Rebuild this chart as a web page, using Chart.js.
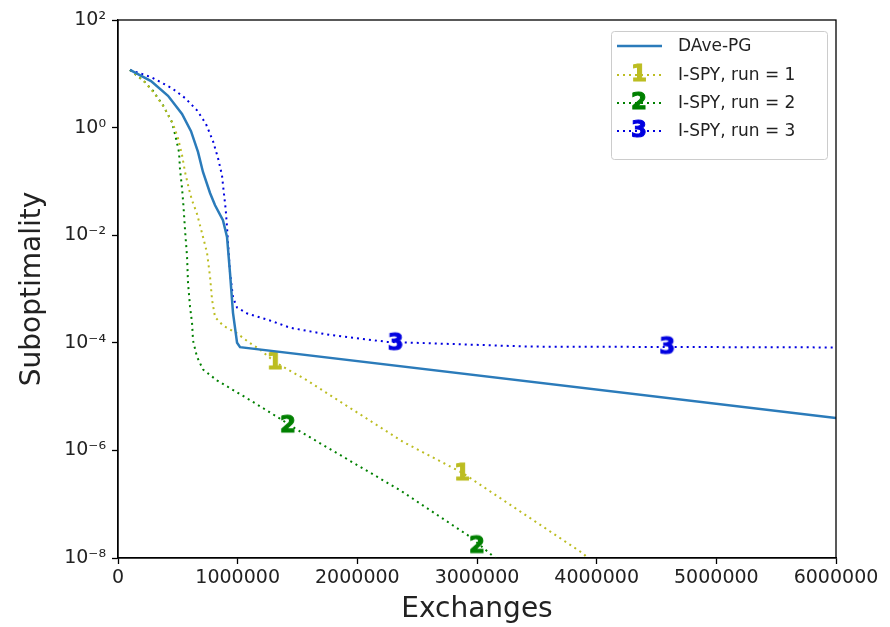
<!DOCTYPE html>
<html lang="en">
<head>
    <meta charset="UTF-8">
    <title>Suboptimality vs Exchanges</title>
    <script src="https://cdn.jsdelivr.net/npm/chart.js"></script>
    <style>
        body { margin: 0; background: #fff; }
        #wrap { width: 890px; height: 627px; }
    </style>
</head>
<body>
    <div id="wrap"><canvas id="chart" width="890" height="627"></canvas></div>
    <script>
        // values (x = exchanges, y = suboptimality)
        const daveX = [100000, 276000, 418000, 535000, 610000, 669000, 710000, 769000, 811000, 877000, 911000, 936000, 961000, 995000, 1020000, 6000000];
        const daveY = [11.8, 7.3, 3.9, 1.8, 0.86, 0.35, 0.15, 0.061, 0.036, 0.019, 0.0093, 0.002, 3.6e-4, 1e-4, 8.3e-5, 4e-6];

        const run1X = [100000, 217000, 301000, 384000, 460000, 501000, 535000, 560000, 593000, 618000, 660000, 702000, 744000, 769000, 786000, 811000, 877000, 994000, 1100000, 1190000, 1310000, 1580000, 2380000, 2880000, 3890000, 4050000];
        const run1Y = [11.8, 7.3, 4.4, 2.4, 1.17, 0.64, 0.31, 0.15, 0.072, 0.045, 0.025, 0.011, 0.0047, 0.0017, 6.3e-4, 3e-4, 2.1e-4, 1.5e-4, 1.0e-4, 7.4e-5, 4.4e-5, 2.0e-5, 1.45e-6, 3.8e-7, 1.2e-8, 5e-9];

        const run2X = [100000, 217000, 293000, 376000, 451000, 476000, 510000, 518000, 535000, 547000, 560000, 577000, 585000, 602000, 619000, 627000, 660000, 710000, 827000, 1100000, 1330000, 1500000, 2360000, 2940000, 3190000];
        const run2Y = [11.8, 7.3, 4.8, 2.6, 1.26, 0.76, 0.35, 0.17, 0.075, 0.035, 0.0126, 0.004, 0.0013, 4.7e-4, 2.3e-4, 1.1e-4, 5.5e-5, 3.2e-5, 2.0e-5, 8.7e-6, 4.2e-6, 2.4e-6, 1.8e-7, 2.5e-8, 8.5e-9];

        const run3X = [100000, 276000, 451000, 560000, 660000, 735000, 794000, 836000, 869000, 885000, 900000, 911000, 936000, 961000, 995000, 1080000, 1270000, 1440000, 1770000, 2250000, 3440000, 6000000];
        const run3Y = [11.8, 8.7, 5.4, 3.55, 2.1, 1.17, 0.56, 0.27, 0.13, 0.06, 0.03, 0.014, 0.002, 7e-4, 4.5e-4, 3.5e-4, 2.6e-4, 1.9e-4, 1.4e-4, 1.04e-4, 8.5e-5, 8.2e-5];

        // numbered markers sitting on the I-SPY curves
        const mark1X = [1310000, 2875000];
        const mark1Y = [4.4e-5, 3.8e-7];
        const mark2X = [1420000, 3000000];
        const mark2Y = [2.95e-6, 1.7e-8];
        const mark3X = [2320000, 4590000];
        const mark3Y = [1.0e-4, 8.5e-5];

        const xTicks = [0, 1000000, 2000000, 3000000, 4000000, 5000000, 6000000];
        const yPowers = [-8, -6, -4, -2, 0, 2];
        const yTickLabels = ['10⁻⁸', '10⁻⁶', '10⁻⁴', '10⁻²', '10⁰', '10²'];

        const seriesNames = ['DAve-PG', 'I-SPY, run = 1', 'I-SPY, run = 2', 'I-SPY, run = 3'];

        const cBlue = '#2b7bba';
        const cOlive = '#bcbd22';
        const cGreen = '#008000';
        const cRoyal = '#0000e0';

        function pts(xs, ys) {
            return xs.map((x, i) => ({ x: x, y: ys[i] }));
        }

        function digitMarker(d, color) {
            const c = document.createElement('canvas');
            c.width = 26; c.height = 30;
            const g = c.getContext('2d');
            g.font = 'bold 23px "DejaVu Sans"';
            g.textAlign = 'center';
            g.textBaseline = 'middle';
            g.fillStyle = color;
            g.strokeStyle = color;
            g.lineWidth = 1;
            g.fillText(d, 13, 16);
            g.strokeText(d, 13, 16);
            return c;
        }
        const m1 = digitMarker('1', cOlive);
        const m2 = digitMarker('2', cGreen);
        const m3 = digitMarker('3', cRoyal);

        const dotted = { borderDash: [2, 4], borderWidth: 2, pointRadius: 0, tension: 0, fill: false };

        const frameAndLegend = {
            id: 'frameAndLegend',
            afterDatasetsDraw(chart) {
                const ctx = chart.ctx;
                const a = chart.chartArea;
                ctx.save();
                ctx.strokeStyle = '#000';
                ctx.lineWidth = 1.3;
                ctx.strokeRect(a.left, a.top, a.right - a.left, a.bottom - a.top);

                // legend box, top right inside the axes
                const bx = 611, by = 31, bw = 216, bh = 128;
                ctx.fillStyle = 'rgba(255,255,255,0.85)';
                ctx.strokeStyle = '#cccccc';
                ctx.lineWidth = 1;
                ctx.beginPath();
                ctx.roundRect(bx + 0.5, by + 0.5, bw, bh, 3);
                ctx.fill();
                ctx.stroke();

                const rows = [46, 75, 103, 131];
                const handles = [null, m1, m2, m3];
                const colors = [cBlue, cOlive, cGreen, cRoyal];
                ctx.font = '17px "DejaVu Sans"';
                ctx.textBaseline = 'middle';
                rows.forEach((ry, i) => {
                    ctx.strokeStyle = colors[i];
                    ctx.lineWidth = i === 0 ? 2.5 : 2;
                    ctx.setLineDash(i === 0 ? [] : [2, 4]);
                    ctx.beginPath();
                    ctx.moveTo(617, ry);
                    ctx.lineTo(662, ry);
                    ctx.stroke();
                    if (handles[i]) {
                        ctx.drawImage(handles[i], 639 - 13, ry - 16);
                    }
                    ctx.setLineDash([]);
                    ctx.fillStyle = '#222';
                    ctx.fillText(seriesNames[i], 678, ry + 1);
                });
                ctx.restore();
            }
        };

        const ctx = document.getElementById('chart').getContext('2d');
        const chart = new Chart(ctx, {
            type: 'line',
            data: {
                datasets: [
                    { label: seriesNames[0], data: pts(daveX, daveY), borderColor: cBlue, borderWidth: 2.5, pointRadius: 0, tension: 0, fill: false },
                    Object.assign({ label: seriesNames[1], data: pts(run1X, run1Y), borderColor: cOlive }, dotted),
                    Object.assign({ label: seriesNames[2], data: pts(run2X, run2Y), borderColor: cGreen }, dotted),
                    Object.assign({ label: seriesNames[3], data: pts(run3X, run3Y), borderColor: cRoyal }, dotted),
                    { label: 'm1', data: pts(mark1X, mark1Y), showLine: false, pointStyle: m1, pointRadius: 8 },
                    { label: 'm2', data: pts(mark2X, mark2Y), showLine: false, pointStyle: m2, pointRadius: 8 },
                    { label: 'm3', data: pts(mark3X, mark3Y), showLine: false, pointStyle: m3, pointRadius: 8 }
                ]
            },
            options: {
                responsive: false,
                animation: false,
                layout: { padding: { top: 20, right: 54, left: 0, bottom: 0 } },
                plugins: {
                    legend: { display: false },
                    tooltip: { enabled: false }
                },
                scales: {
                    x: {
                        type: 'linear',
                        min: 0,
                        max: 6000000,
                        afterBuildTicks: (s) => { s.ticks = xTicks.map(v => ({ value: v })); },
                        afterFit: (s) => { s.height = 69; },
                        ticks: {
                            color: '#222',
                            font: { family: 'DejaVu Sans', size: 19 },
                            padding: 3,
                            maxRotation: 0,
                            callback: (v) => String(v)
                        },
                        grid: { drawOnChartArea: false, tickLength: 6, color: '#000', tickWidth: 1.3 },
                        border: { color: '#000', width: 1.3 },
                        title: {
                            display: true,
                            text: 'Exchanges',
                            color: '#222',
                            font: { family: 'DejaVu Sans', size: 28 },
                            padding: { top: 2, bottom: 0 }
                        }
                    },
                    y: {
                        type: 'logarithmic',
                        min: 1e-8,
                        max: 100,
                        afterBuildTicks: (s) => { s.ticks = yPowers.map(p => ({ value: Math.pow(10, p) })); },
                        afterFit: (s) => { s.width = 118; },
                        ticks: {
                            color: '#222',
                            font: { family: 'DejaVu Sans', size: 19 },
                            padding: 6,
                            callback: (v) => yTickLabels[yPowers.indexOf(Math.round(Math.log10(v)))]
                        },
                        grid: { drawOnChartArea: false, tickLength: 6, color: '#000', tickWidth: 1.3 },
                        border: { color: '#000', width: 1.3 },
                        title: {
                            display: true,
                            text: 'Suboptimality',
                            color: '#222',
                            font: { family: 'DejaVu Sans', size: 28 },
                            padding: { top: 16, bottom: 0 }
                        }
                    }
                }
            },
            plugins: [frameAndLegend]
        });
    </script>
</body>
</html>
